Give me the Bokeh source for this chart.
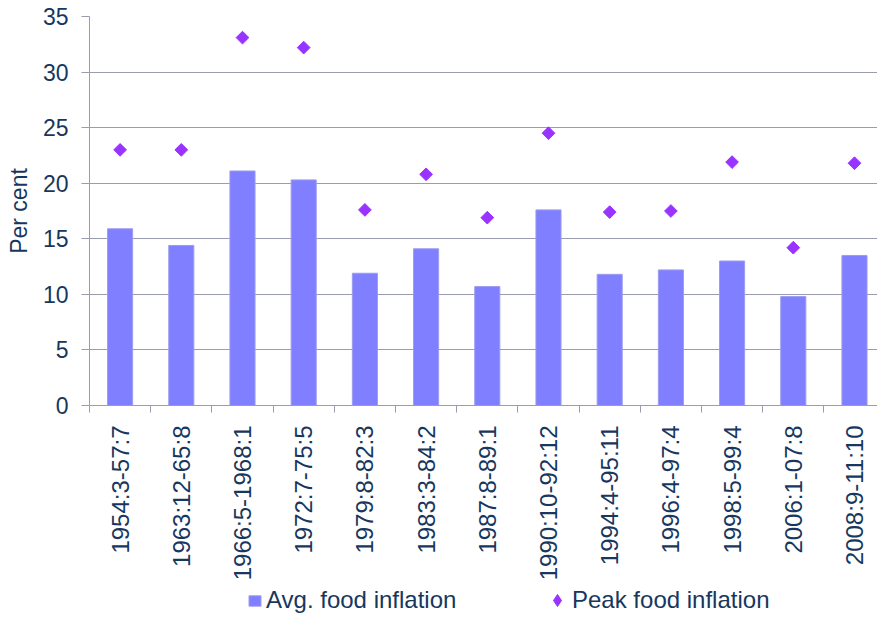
import math
from bokeh.plotting import figure
from bokeh.layouts import column
from bokeh.models import ColumnDataSource, FixedTicker, Legend, LegendItem, Range1d
from bokeh.embed import file_html
from bokeh.resources import INLINE

periods = ["1954:3-57:7", "1963:12-65:8", "1966:5-1968:1", "1972:7-75:5",
           "1979:8-82:3", "1983:3-84:2", "1987:8-89:1", "1990:10-92:12",
           "1994:4-95:11", "1996:4-97:4", "1998:5-99:4", "2006:1-07:8",
           "2008:9-11:10"]
avg_food_inflation = [15.9, 14.4, 21.1, 20.3, 11.9, 14.1, 10.7, 17.6,
                      11.8, 12.2, 13.0, 9.8, 13.5]
peak_food_inflation = [23.0, 23.0, 33.1, 32.2, 17.6, 20.8, 16.9, 24.5,
                       17.4, 17.5, 21.9, 14.2, 21.8]
y_ticks = [0, 5, 10, 15, 20, 25, 30, 35]

x_pos = [i + 0.5 for i in range(len(periods))]
source = ColumnDataSource(dict(x=x_pos, period=periods,
                               avg=avg_food_inflation, peak=peak_food_inflation))

TEXT = "#17375E"
GRID = "#9a9cb0"
FONT = "Liberation Sans"
BAR = "#7f7fff"
BAR_EDGE = "#9c9cf0"
PEAK = "#9933ff"

W = 877
p = figure(width=W, height=584, output_backend="svg", toolbar_location=None,
           x_range=Range1d(0, 12.876), y_range=Range1d(0, 35),
           min_border_left=89, min_border_right=0, min_border_top=16,
           min_border_bottom=179)
p.outline_line_color = None
p.background_fill_color = "white"
p.border_fill_color = "white"

bars = p.vbar(x="x", top="avg", width=0.41, source=source,
              fill_color=BAR, line_color=BAR_EDGE, line_width=1)
pts = p.scatter(x="x", y="peak", source=source, marker="square", size=9,
                angle=math.pi / 4, fill_color=PEAK, line_color=PEAK)

# x axis
xa = p.xaxis[0]
xa.ticker = FixedTicker(ticks=x_pos, minor_ticks=list(range(len(periods) + 1)))
xa.major_label_overrides = {x: lab for x, lab in zip(x_pos, periods)}
xa.major_label_orientation = math.pi / 2
xa.axis_line_color = GRID
xa.major_tick_out = 0
xa.major_tick_in = 0
xa.major_tick_line_color = None
xa.minor_tick_line_color = GRID
xa.minor_tick_out = 7
xa.minor_tick_in = 0
xa.major_label_standoff = 13
xa.major_label_text_font = FONT
xa.major_label_text_font_size = "24px"
xa.major_label_text_color = TEXT

# y axis
ya = p.yaxis[0]
ya.ticker = FixedTicker(ticks=y_ticks)
ya.axis_line_color = GRID
ya.major_tick_line_color = GRID
ya.major_tick_out = 8
ya.major_tick_in = 0
ya.minor_tick_line_color = None
ya.major_label_standoff = 13
ya.major_label_text_font = FONT
ya.major_label_text_font_size = "23px"
ya.major_label_text_color = TEXT
ya.axis_label = "Per cent"
ya.axis_label_text_font = FONT
ya.axis_label_text_font_size = "23px"
ya.axis_label_text_font_style = "normal"
ya.axis_label_text_color = TEXT
ya.axis_label_standoff = 8

p.xgrid.visible = False
p.ygrid.ticker = FixedTicker(ticks=y_ticks)
p.ygrid.grid_line_color = GRID

# legend strip below the chart (same data, ranges keep marks out of view)
lg = figure(width=W, height=33, output_backend="svg", toolbar_location=None,
            x_range=Range1d(100, 101), y_range=Range1d(100, 101),
            min_border=0)
lg.axis.visible = False
lg.grid.visible = False
lg.outline_line_color = None
lg.border_fill_color = "white"
lg.background_fill_color = "white"
lbars = lg.vbar(x="x", top="avg", width=0.41, source=source,
                fill_color=BAR, line_color=BAR_EDGE, line_width=1)
lpts = lg.scatter(x="x", y="peak", source=source, marker="diamond",
                  fill_color=PEAK, line_color=PEAK)

common = dict(orientation="horizontal", padding=0, margin=0,
              border_line_color=None, background_fill_alpha=0,
              label_text_font=FONT, label_text_font_size="24px",
              label_text_color=TEXT, label_height=20)

leg1 = Legend(items=[LegendItem(label="Avg. food inflation", renderers=[lbars])],
              location=(158, 3), glyph_width=15, glyph_height=13,
              label_standoff=4, **common)
leg2 = Legend(items=[LegendItem(label="Peak food inflation", renderers=[lpts])],
              location=(453, 2), glyph_width=30, glyph_height=30,
              label_standoff=0, **common)
lg.add_layout(leg1)
lg.add_layout(leg2)

layout = column(p, lg, spacing=0)
open("out.html", "w").write(file_html(layout, INLINE))
